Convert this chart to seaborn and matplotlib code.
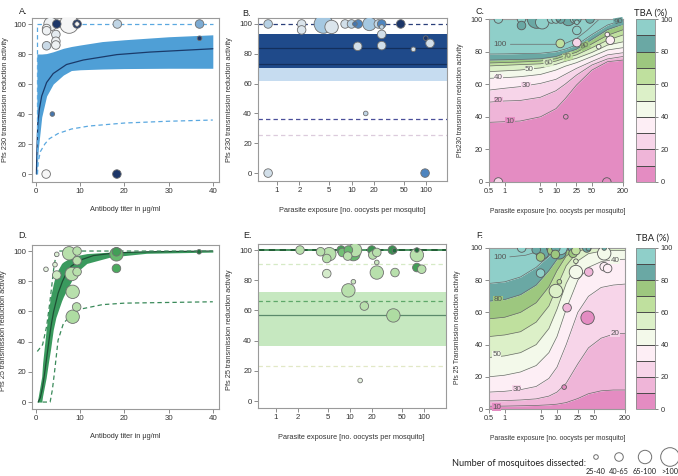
import numpy as np
import pandas as pd
import matplotlib
matplotlib.use("Agg")
import matplotlib.pyplot as plt
import matplotlib.ticker as mticker
from matplotlib.colors import ListedColormap, LinearSegmentedColormap, Normalize
from matplotlib.cm import ScalarMappable
import seaborn as sns

sns.set_theme(style="white")
plt.rcParams['font.family'] = ['Liberation Sans', 'DejaVu Sans']
plt.rcParams['axes.unicode_minus'] = False

# ======================= DATA =======================
SIZE_CLASSES = ["25-40", "40-65", "65-100", ">100"]
TBA_LEVELS = [0, 10, 20, 30, 40, 50, 60, 70, 80, 90, 100]
TBA_TICKS = [0, 20, 40, 60, 80, 100]

# ---- Panel A: Pfs230 TRA vs antibody titer ----
A_titer = [2.3, 18.3, 3.7, 37.0, 37.0, 18.4, 9.3, 9.3, 7.5, 4.7, 3.3, 2.4, 2.4, 4.5, 4.5, 4.5, 2.4]
A_tra = [0, 0, 40, 90.5, 100, 100, 100, 100, 100, 100, 100, 97, 95.5, 93, 88.5, 86, 85.5]
A_size = [1, 1, 0, 0, 1, 1, 1, 0, 3, 1, 2, 1, 1, 1, 1, 1, 1]
A_shade = [0.0, 1.0, 0.8, 1.0, 0.6, 0.3, 1.0, 0.0, 0.0, 1.0, 0.05, 0.05, 0.05, 0.1, 0.05, 0.05, 0.25]

A_fit_x = [0.1, 0.2, 0.4, 0.75, 1.3, 2.4, 3.9, 6.9, 10.7, 18.3, 25.8, 40]
A_fit_y = [0, 15, 33, 43, 52, 61, 67, 73, 76, 79.6, 81.3, 83.5]
A_ci_x = [0.2, 0.5, 1.3, 2.4, 3.9, 6.2, 8, 10, 15, 20, 30, 40]
A_ci_lo = [0, 16, 38, 52, 60, 66, 69, 69.5, 70, 70.3, 70.5, 70.5]
A_ci_hi = [80, 80, 80, 80.3, 81.5, 83.8, 85, 86, 88.3, 89.5, 91.5, 92.8]
A_pi_hi_x = [0.15, 0.15, 40]
A_pi_hi_y = [0, 100, 100]
A_pi_lo_x = [0.3, 0.5, 1, 2, 3, 5, 8, 12, 20, 30, 40]
A_pi_lo_y = [0, 8, 15, 20, 23.5, 27, 30, 32, 34, 35.2, 36]

# ---- Panel B: Pfs230 TRA vs parasite exposure ----
B_exposure = [0.76, 2.14, 2.14, 4.2, 5.4, 8.2, 10.0, 11.1, 12.3, 17.4, 22.9, 25.4, 25.4, 25.4,
              45.7, 12.1, 25.4, 67.6, 99, 113, 0.76, 97, 15.5]
B_tra = [100, 100, 96, 100, 98, 100, 100, 100, 100, 100, 100, 100, 98, 93,
         100, 85, 85.5, 83, 90.5, 87, 0, 0, 40]
B_size = [1, 1, 1, 3, 2, 1, 1, 0, 1, 2, 1, 1, 0, 1, 1, 1, 1, 0, 0, 1, 1, 1, 0]
B_shade = [0.35, 0.15, 0.15, 0.45, 0.15, 0.2, 0.35, 0.8, 0.75, 0.45, 0.3, 0.75, 0.3, 0.2,
           1.0, 0.2, 0.2, 0.2, 1.0, 0.2, 0.2, 0.75, 0.3]
B_mean = 84.0
B_median = 73.3
B_ci = (70.5, 93.3)
B_outer = (62.0, 70.5)
B_pred_hi = 100.0
B_pred_lo = 36.0
B_pred_lo2 = 25.5

# ---- Panel C: TBA surface, Pfs230 ----
C_exposure = list(B_exposure)
C_tra = list(B_tra)
C_size = list(B_size)
C_tba = [95, 92, 85, 88, 92, 95, 90, 85, 82, 88, 92, 82, 92, 95,
         82, 62, 28, 45, 30, 30, 25, 5, 5]
C_grid_x = [0.5, 1, 2, 5, 10, 15, 25, 50, 100, 200]
C_b10 = [36.6, 37, 37.4, 40, 45, 51, 59.5, 68.7, 73.8, 74.8]
C_b20 = [49, 49.7, 50, 52, 56, 60, 65.6, 71.8, 75.5, 77]
C_b30 = [56.4, 57.5, 58.5, 60.5, 63, 66, 69.7, 74, 78, 79.3]
C_b40 = [63.6, 64, 64.6, 66, 68.7, 71, 73.2, 77, 81, 82.4]
C_b50 = [67.7, 68.2, 68.7, 70, 72.2, 74, 75.9, 79.5, 84, 86]
C_b60 = [71.2, 71.6, 72, 72.5, 74.2, 76, 78, 82.4, 87, 90.2]
C_b70 = [73, 73.3, 73.6, 74.2, 75.6, 77.4, 79.6, 84.8, 90, 93.4]
C_b80 = [74.8, 75, 75.2, 75.6, 77, 79, 81.5, 87.5, 93.5, 96.8]
C_b90 = [78.5, 78.6, 78.8, 79, 80, 81.5, 84, 90.5, 96.3, 99.4]
C_c100_x = [1.3, 10, 15, 25, 40, 70]
C_c100_y = [84.5, 84.5, 85, 88, 93, 100]

# ---- Panel D: Pfs25 TRA vs antibody titer ----
D_titer = [2.26, 4.7, 4.3, 4.7, 7.5, 9.3, 9.3, 9.3, 8.1, 8.3, 9.2, 8.3, 18.2, 18.2, 18.2, 36.9]
D_tra = [87.9, 97.8, 91, 84.1, 98.5, 100, 93.6, 86.3, 84.8, 73, 63, 56.5, 97.8, 99.5, 88.5, 99.5]
D_size = [0, 0, 0, 1, 2, 1, 1, 1, 2, 2, 1, 2, 2, 1, 1, 0]
D_shade = [0.05, 0.1, 0.1, 0.2, 0.3, 0.3, 0.3, 0.3, 0.3, 0.3, 0.3, 0.35, 0.65, 0.8, 0.75, 1.0]

D_fit_x = [0.5, 1, 1.5, 2, 2.5, 3, 3.5, 4, 5, 6, 7, 8, 10, 13, 18, 25, 40]
D_fit_y = [0, 3, 10, 20, 31, 42, 52, 60, 72, 80, 86, 90, 94, 97, 98.8, 99.5, 100]
D_ci_x = [0.3, 1.3, 1.5, 2.3, 2.8, 3.3, 3.9, 4.5, 5.8, 6.2, 8, 8.8, 11.5, 16.8, 20, 25, 40]
D_ci_hi = [0, 17, 25.8, 47.8, 60, 69.8, 78, 85, 91.8, 92.8, 96, 96.8, 98.3, 99.3, 99.5, 99.7, 100]
D_ci_lo = [0, 0, 4, 16, 25.8, 35, 47.8, 56, 67, 69.8, 80, 85, 91.8, 96, 97, 98.5, 99.3]
D_pi_hi_x = [0.3, 1.5, 2.4, 3, 3.5, 4, 4.5, 5, 40]
D_pi_hi_y = [33.5, 38, 50, 63, 75, 88, 97, 100, 100]
D_pi_lo_x = [1.5, 3.2, 3.7, 4.2, 5, 6.2, 8, 10, 15, 20, 40]
D_pi_lo_y = [0, 0, 8, 20, 41, 52, 58, 61.5, 64.5, 65.5, 66.4]

# ---- Panel E: Pfs25 TRA vs parasite exposure ----
E_exposure = [2.11, 4.0, 5.25, 4.85, 4.85, 7.6, 7.9, 9.5, 9.3, 11.1, 11.7, 11.1, 9.5, 15.6,
              13.7, 19.7, 20.3, 23, 23, 23, 37.3, 40, 38.5, 40.5, 80, 80, 80, 93]
E_tra = [100, 98.9, 97.3, 94.4, 84.4, 100, 98.4, 100, 96, 97.3, 100, 79, 73.3, 62.9,
         13.6, 100, 96.7, 91.8, 98.4, 85.1, 100, 99.6, 56.7, 85.1, 96.7, 100, 88.4, 87.3]
E_size = [1, 1, 2, 1, 1, 1, 1, 1, 1, 2, 2, 0, 2, 1, 0, 1, 1, 0, 1, 2, 1, 0, 2, 1, 2, 0, 1, 1]
E_shade = [0.3, 0.3, 0.3, 0.3, 0.15, 0.8, 0.6, 0.65, 0.3, 0.65, 0.3, 0.2, 0.3, 0.3,
           0.05, 0.85, 0.3, 0.2, 0.3, 0.3, 0.85, 1.0, 0.35, 0.3, 0.3, 1.0, 0.8, 0.3]
E_mean = 56.7
E_ci = (36.5, 72.4)
E_top = 100.0
E_pred_mid = 66.2
E_pred_hi = 90.7
E_pred_lo = 22.9

# ---- Panel F: TBA surface, Pfs25 ----
F_exposure = list(E_exposure)
F_tra = list(E_tra)
F_size = list(E_size)
F_tba = [90, 85, 82, 75, 92, 85, 75, 85, 75, 88, 90, 60, 55, 15,
         5, 85, 70, 55, 65, 45, 80, 80, 8, 18, 45, 85, 35, 30]
F_grid_x = [0.5, 1, 2, 4, 7, 10, 15, 25, 40, 70, 120, 200]
F_b10 = [1.7, 1.8, 2, 2.2, 2.6, 3, 4, 6.5, 9.5, 11.3, 11.8, 11.8]
F_b20 = [5, 5.2, 5.6, 6.3, 8, 10.5, 16, 28, 38, 44, 46.5, 47]
F_b30 = [10.5, 11, 12, 14, 19, 26, 40, 60, 70, 75.5, 77, 77.6]
F_b40 = [20, 21, 23, 27, 35, 45, 62, 80, 88, 91.5, 92.8, 93]
F_b50 = [32, 33, 35, 40, 50, 62, 78, 92, 96.5, 98, 98.5, 98.5]
F_b60 = [45, 46, 48, 54, 64, 76, 89, 98, 99.7, 100, 100, 100]
F_b70 = [56, 57, 60, 66, 76, 86, 95, 100, 100, 100, 100, 100]
F_b80 = [67, 68, 71, 77, 86, 93, 98.5, 100, 100, 100, 100, 100]
F_b90 = [78, 79, 82, 88, 95, 98.5, 100, 100, 100, 100, 100, 100]
F_c100_x = [1.25, 2.5, 4]
F_c100_y = [94.5, 95.5, 97.5]

# ======================= STYLE =======================
SIZES = {0: 11, 1: 38, 2: 93, 3: 180}
TBA_COLORS = ['#e48cc2', '#efb5d8', '#f7d5e9', '#fdeef5', '#f3f9ea',
              '#dcf0c8', '#bfe09e', '#9dc77f', '#6aa8a4', '#8fcfc9']
tba_cmap = ListedColormap(TBA_COLORS)
blue_cmap = LinearSegmentedColormap.from_list(
    'b', ['#f6f6f6', '#c9d9e6', '#9cc4e0', '#4f86c0', '#1c3668'])
green_cmap = LinearSegmentedColormap.from_list(
    'g', ['#eef6ea', '#c2e4b5', '#8fcf86', '#4caa5e', '#1f6e3c'])
TXT = '#333333'
SPINE = '#9a9a9a'
W, H = 678, 476

fig = plt.figure(figsize=(W / 100, H / 100), dpi=100)


def add_ax(l, t, r, b):
    return fig.add_axes([l / W, 1 - b / H, (r - l) / W, (b - t) / H])


def style_ax(ax, fs=5.7):
    for s in ax.spines.values():
        s.set_color(SPINE)
        s.set_linewidth(0.8)
    ax.tick_params(axis='both', which='major', length=2.6, width=0.6, color='#7a7a7a',
                   labelsize=fs, labelcolor=TXT, pad=1.8, direction='out',
                   bottom=True, left=True)
    ax.tick_params(which='minor', length=0)
    ax.grid(False)


def set_labels(ax, xl, yl, xpos, ypos, fs=5.3):
    ax.set_xlabel(xl, fontsize=fs, color=TXT)
    ax.set_ylabel(yl, fontsize=fs, color=TXT)
    ax.xaxis.set_label_coords(*xpos)
    ax.yaxis.set_label_coords(*ypos)
    ax.xaxis.label.set_va('center')
    ax.yaxis.label.set_va('center')


def draw_points(ax, x, y, size, hue, cmap, norm, edge='#707070'):
    df = pd.DataFrame({'x': x, 'y': y, 's': size, 'h': hue})
    df = df.iloc[np.argsort(-df['s'].values, kind='stable')]
    sns.scatterplot(data=df, x='x', y='y', hue='h', size='s', sizes=SIZES,
                    palette=cmap, hue_norm=norm, edgecolor=edge, linewidth=0.6,
                    legend=False, ax=ax, zorder=5)


def line(ax, x, y, color, lw=1.0, ls='-'):
    sns.lineplot(x=x, y=y, ax=ax, color=color, lw=lw, linestyle=ls,
                 sort=False, estimator=None, zorder=3)


def log_ticks(ax, ticks, labels):
    ax.set_xscale('log')
    ax.xaxis.set_major_locator(mticker.FixedLocator(ticks))
    ax.xaxis.set_minor_locator(mticker.NullLocator())
    ax.set_xticks(ticks)
    ax.set_xticklabels(labels)


DASH = (0, (3.5, 2.5))
yt = [0, 20, 40, 60, 80, 100]

# ---------------- Panel A ----------------
axA = add_ax(32, 18, 219, 182)
axA.set_xlim(-0.9, 41.4)
axA.set_ylim(-5.3, 104)
axA.fill_between(A_ci_x, A_ci_lo, A_ci_hi, color='#4f9fd6', lw=0, zorder=1)
line(axA, A_fit_x, A_fit_y, '#1a3a6a', lw=0.9)
line(axA, A_pi_hi_x, A_pi_hi_y, '#5aa8e0', lw=0.9, ls=DASH)
line(axA, A_pi_lo_x, A_pi_lo_y, '#5aa8e0', lw=0.9, ls=DASH)
draw_points(axA, A_titer, A_tra, A_size, A_shade, blue_cmap, Normalize(0, 1))
axA.set_xticks([0, 10, 20, 30, 40])
axA.set_yticks(yt)
style_ax(axA)
set_labels(axA, 'Antibody titer in \u03bcg/ml', 'Pfs 230 transmission reduction activity',
           (0.497, -0.165), (-0.144, 0.5))

# ---------------- Panel B ----------------
axB = add_ax(258, 18, 447, 181)
log_ticks(axB, [1, 2, 5, 10, 20, 50, 100], ['1', '2', '5', '10', '20', '50', '100'])
axB.set_xlim(0.556, 191)
axB.set_ylim(-5.3, 104)
axB.axhspan(*B_outer, color='#c6dcf0', lw=0, zorder=1)
axB.axhspan(*B_ci, color='#1f4a8a', lw=0, zorder=1)
axB.axhline(B_mean, color='#132f5c', lw=0.9, zorder=2)
axB.axhline(B_median, color='#132f5c', lw=0.9, zorder=2)
axB.axhline(B_pred_hi, color='#2a3f7a', lw=0.9, ls=DASH, zorder=2)
axB.axhline(B_pred_lo, color='#4a4f9a', lw=0.9, ls=DASH, zorder=2)
axB.axhline(B_pred_lo2, color='#dccbdc', lw=0.9, ls=DASH, zorder=2)
draw_points(axB, B_exposure, B_tra, B_size, B_shade, blue_cmap, Normalize(0, 1))
axB.set_yticks(yt)
style_ax(axB)
set_labels(axB, 'Parasite exposure [no. oocysts per mosquito]',
           'Pfs 230 transmission reduction activity', (0.497, -0.184), (-0.153, 0.5))


# ---------------- Contour panels ----------------
def draw_surface(ax, gx, bounds, c100x, c100y):
    gx = np.asarray(gx, float)
    layers = [np.zeros(len(gx))] + [np.asarray(b, float) for b in bounds] + [np.full(len(gx), 100.0)]
    for k in range(len(layers) - 1):
        ax.fill_between(gx, layers[k], layers[k + 1], color=TBA_COLORS[k], lw=0, zorder=1)
    for b in bounds:
        ax.plot(gx, b, color='#6a6a6a', lw=0.5, zorder=2)
    ax.plot(c100x, c100y, color='#6a6a6a', lw=0.5, zorder=2)


def clabel(ax, txt, x, y, bg, rot=0):
    ax.text(x, y, txt, fontsize=5.8, color='#555555', ha='center', va='center', rotation=rot,
            zorder=3, bbox=dict(boxstyle='square,pad=0.05', fc=bg, ec='none'))


def tba_colorbar(l, t, r, b, title_xy):
    cax = add_ax(l, t, r, b)
    sm = ScalarMappable(norm=Normalize(0, 100), cmap=tba_cmap)
    cb = fig.colorbar(sm, cax=cax, boundaries=TBA_LEVELS, ticks=TBA_TICKS, drawedges=True)
    cb.outline.set_edgecolor('#8a8a8a')
    cb.outline.set_linewidth(0.6)
    cb.dividers.set_color('#4a4a4a')
    cb.dividers.set_linewidth(0.7)
    cax.tick_params(labelsize=5.3, length=2.5, width=0.5, color='#555555',
                    labelcolor=TXT, pad=1.5)
    fig.text(title_xy[0] / W, 1 - title_xy[1] / H, 'TBA (%)', fontsize=6.8,
             family=['Lato', 'DejaVu Sans'], color='#222222', ha='center', va='center')


cx_ticks = [0.5, 1, 5, 10, 25, 50, 200]
cx_labels = ['0.5', '1', '5', '10', '25', '50', '200']

axC = add_ax(489, 19, 623, 182)
log_ticks(axC, cx_ticks, cx_labels)
axC.set_xlim(0.5, 200)
axC.set_ylim(0, 100)
draw_surface(axC, C_grid_x, [C_b10, C_b20, C_b30, C_b40, C_b50, C_b60, C_b70, C_b80, C_b90],
             C_c100_x, C_c100_y)
for t, x, y, r, bg in [('10', 1.28, 37.2, 0, TBA_COLORS[0]), ('20', 0.76, 50.0, 0, TBA_COLORS[1]),
                       ('30', 2.58, 59.0, 0, TBA_COLORS[2]), ('40', 0.76, 64.0, 0, TBA_COLORS[3]),
                       ('50', 3.04, 68.8, 0, TBA_COLORS[4]), ('60', 7.1, 73.2, 8, TBA_COLORS[5]),
                       ('70', 16.9, 77.0, 15, TBA_COLORS[6]), ('80', 36.6, 83.5, 25, TBA_COLORS[7]),
                       ('90', 162, 98.4, 10, TBA_COLORS[8]), ('100', 0.82, 84.5, 0, TBA_COLORS[9])]:
    clabel(axC, t, x, y, bg, r)
draw_points(axC, C_exposure, C_tra, C_size, C_tba, tba_cmap, Normalize(0, 100), edge='#5a5a5a')
axC.set_yticks(yt)
style_ax(axC, fs=5.2)
set_labels(axC, 'Parasite exposure [no. oocysts per mosquito]',
           'Pfs230 transmission reduction activity', (0.515, -0.184), (-0.216, 0.503), fs=4.9)
tba_colorbar(636, 19, 655, 182, (650, 13))

# ---------------- Panel D ----------------
axD = add_ax(32, 245, 219, 409)
axD.set_xlim(-0.9, 41.4)
axD.set_ylim(-4.6, 104)
axD.fill_between(D_ci_x, D_ci_lo, D_ci_hi, color='#3a9a5e', lw=0, zorder=1)
line(axD, D_fit_x, D_fit_y, '#1e5034', lw=0.9)
line(axD, D_pi_hi_x, D_pi_hi_y, '#3a8a5a', lw=0.9, ls=DASH)
line(axD, D_pi_lo_x, D_pi_lo_y, '#3a8a5a', lw=0.9, ls=DASH)
draw_points(axD, D_titer, D_tra, D_size, D_shade, green_cmap, Normalize(0, 1))
axD.set_xticks([0, 10, 20, 30, 40])
axD.set_yticks(yt)
style_ax(axD)
set_labels(axD, 'Antibody titer in \u03bcg/ml', 'Pfs 25 transmission reduction activity',
           (0.497, -0.165), (-0.15, 0.48))

# ---------------- Panel E ----------------
axE = add_ax(258, 244, 446, 408)
log_ticks(axE, [1, 2, 5, 10, 20, 50, 100, 200],
          ['1', '2', '5', '10', '20', '50', '100', '200'])
axE.set_xlim(0.571, 198)
axE.set_ylim(-4.6, 104)
axE.axhspan(*E_ci, color='#c6e8c0', lw=0, zorder=1)
axE.axhline(E_mean, color='#5b8a6b', lw=0.9, zorder=2)
axE.axhline(E_pred_mid, color='#5fa86a', lw=0.9, ls=DASH, zorder=2)
axE.axhline(E_pred_hi, color='#d6eac6', lw=0.9, ls=DASH, zorder=2)
axE.axhline(E_pred_lo, color='#e2e8c6', lw=0.9, ls=DASH, zorder=2)
axE.axhline(E_top, color='#3d8a55', lw=1.3, zorder=2)
axE.axhline(E_top, color='#1f5a33', lw=1.3, ls=DASH, zorder=2)
draw_points(axE, E_exposure, E_tra, E_size, E_shade, green_cmap, Normalize(0, 1))
axE.set_yticks(yt)
style_ax(axE)
set_labels(axE, 'Parasite exposure [no. oocysts per mosquito]',
           'Pfs 25 transmission reduction activity', (0.497, -0.177), (-0.149, 0.476))

# ---------------- Panel F ----------------
axF = add_ax(489, 248, 625, 409)
log_ticks(axF, cx_ticks, cx_labels)
axF.set_xlim(0.5, 200)
axF.set_ylim(0, 100)
draw_surface(axF, F_grid_x, [F_b10, F_b20, F_b30, F_b40, F_b50, F_b60, F_b70, F_b80, F_b90],
             F_c100_x, F_c100_y)
for t, x, y, r, bg in [('10', 0.70, 1.2, 0, TBA_COLORS[0]), ('30', 1.69, 12.3, 0, TBA_COLORS[2]),
                       ('50', 0.70, 33.6, 0, TBA_COLORS[4]), ('80', 0.75, 67.8, 0, TBA_COLORS[7]),
                       ('100', 0.81, 94.2, 0, TBA_COLORS[9]), ('20', 129, 47.0, 0, TBA_COLORS[2]),
                       ('40', 129, 92.5, 0, TBA_COLORS[4])]:
    clabel(axF, t, x, y, bg, r)
draw_points(axF, F_exposure, F_tra, F_size, F_tba, tba_cmap, Normalize(0, 100), edge='#5a5a5a')
axF.set_yticks(yt)
style_ax(axF, fs=5.2)
set_labels(axF, 'Parasite exposure [no. oocysts per mosquito]',
           'Pfs 25 Transmission reduction activity', (0.507, -0.186), (-0.228, 0.51), fs=4.9)
tba_colorbar(636, 248, 655, 409, (652, 238))

# ---------------- Panel letters ----------------
for t, x, y in [('A.', 23, 12), ('B.', 247, 13), ('C.', 480, 12),
                ('D.', 23, 236), ('E.', 248, 236), ('F.', 480, 236)]:
    fig.text(x / W, 1 - y / H, t, fontsize=6.5, color='#222222', ha='center', va='center')

# ---------------- Size legend ----------------
axL = fig.add_axes([0, 0, 1, 1], zorder=-5)
axL.set_xlim(0, W)
axL.set_ylim(H, 0)
axL.axis('off')
leg_x = [596, 619, 645, 670]
sns.scatterplot(x=leg_x, y=[457] * 4, size=[0, 1, 2, 3], sizes=SIZES, color='white',
                edgecolor='#707070', linewidth=0.7, legend=False, ax=axL)
axL.text(452, 463, 'Number of mosquitoes dissected:', fontsize=6.6,
         family=['Lato', 'DejaVu Sans'], color='#222222', ha='left', va='center')
for lx, lab in zip(leg_x, SIZE_CLASSES):
    axL.text(lx, 471, lab, fontsize=5.3, family=['Lato', 'DejaVu Sans'],
             color='#222222', ha='center', va='center')

fig.savefig('out.png', dpi=100)
